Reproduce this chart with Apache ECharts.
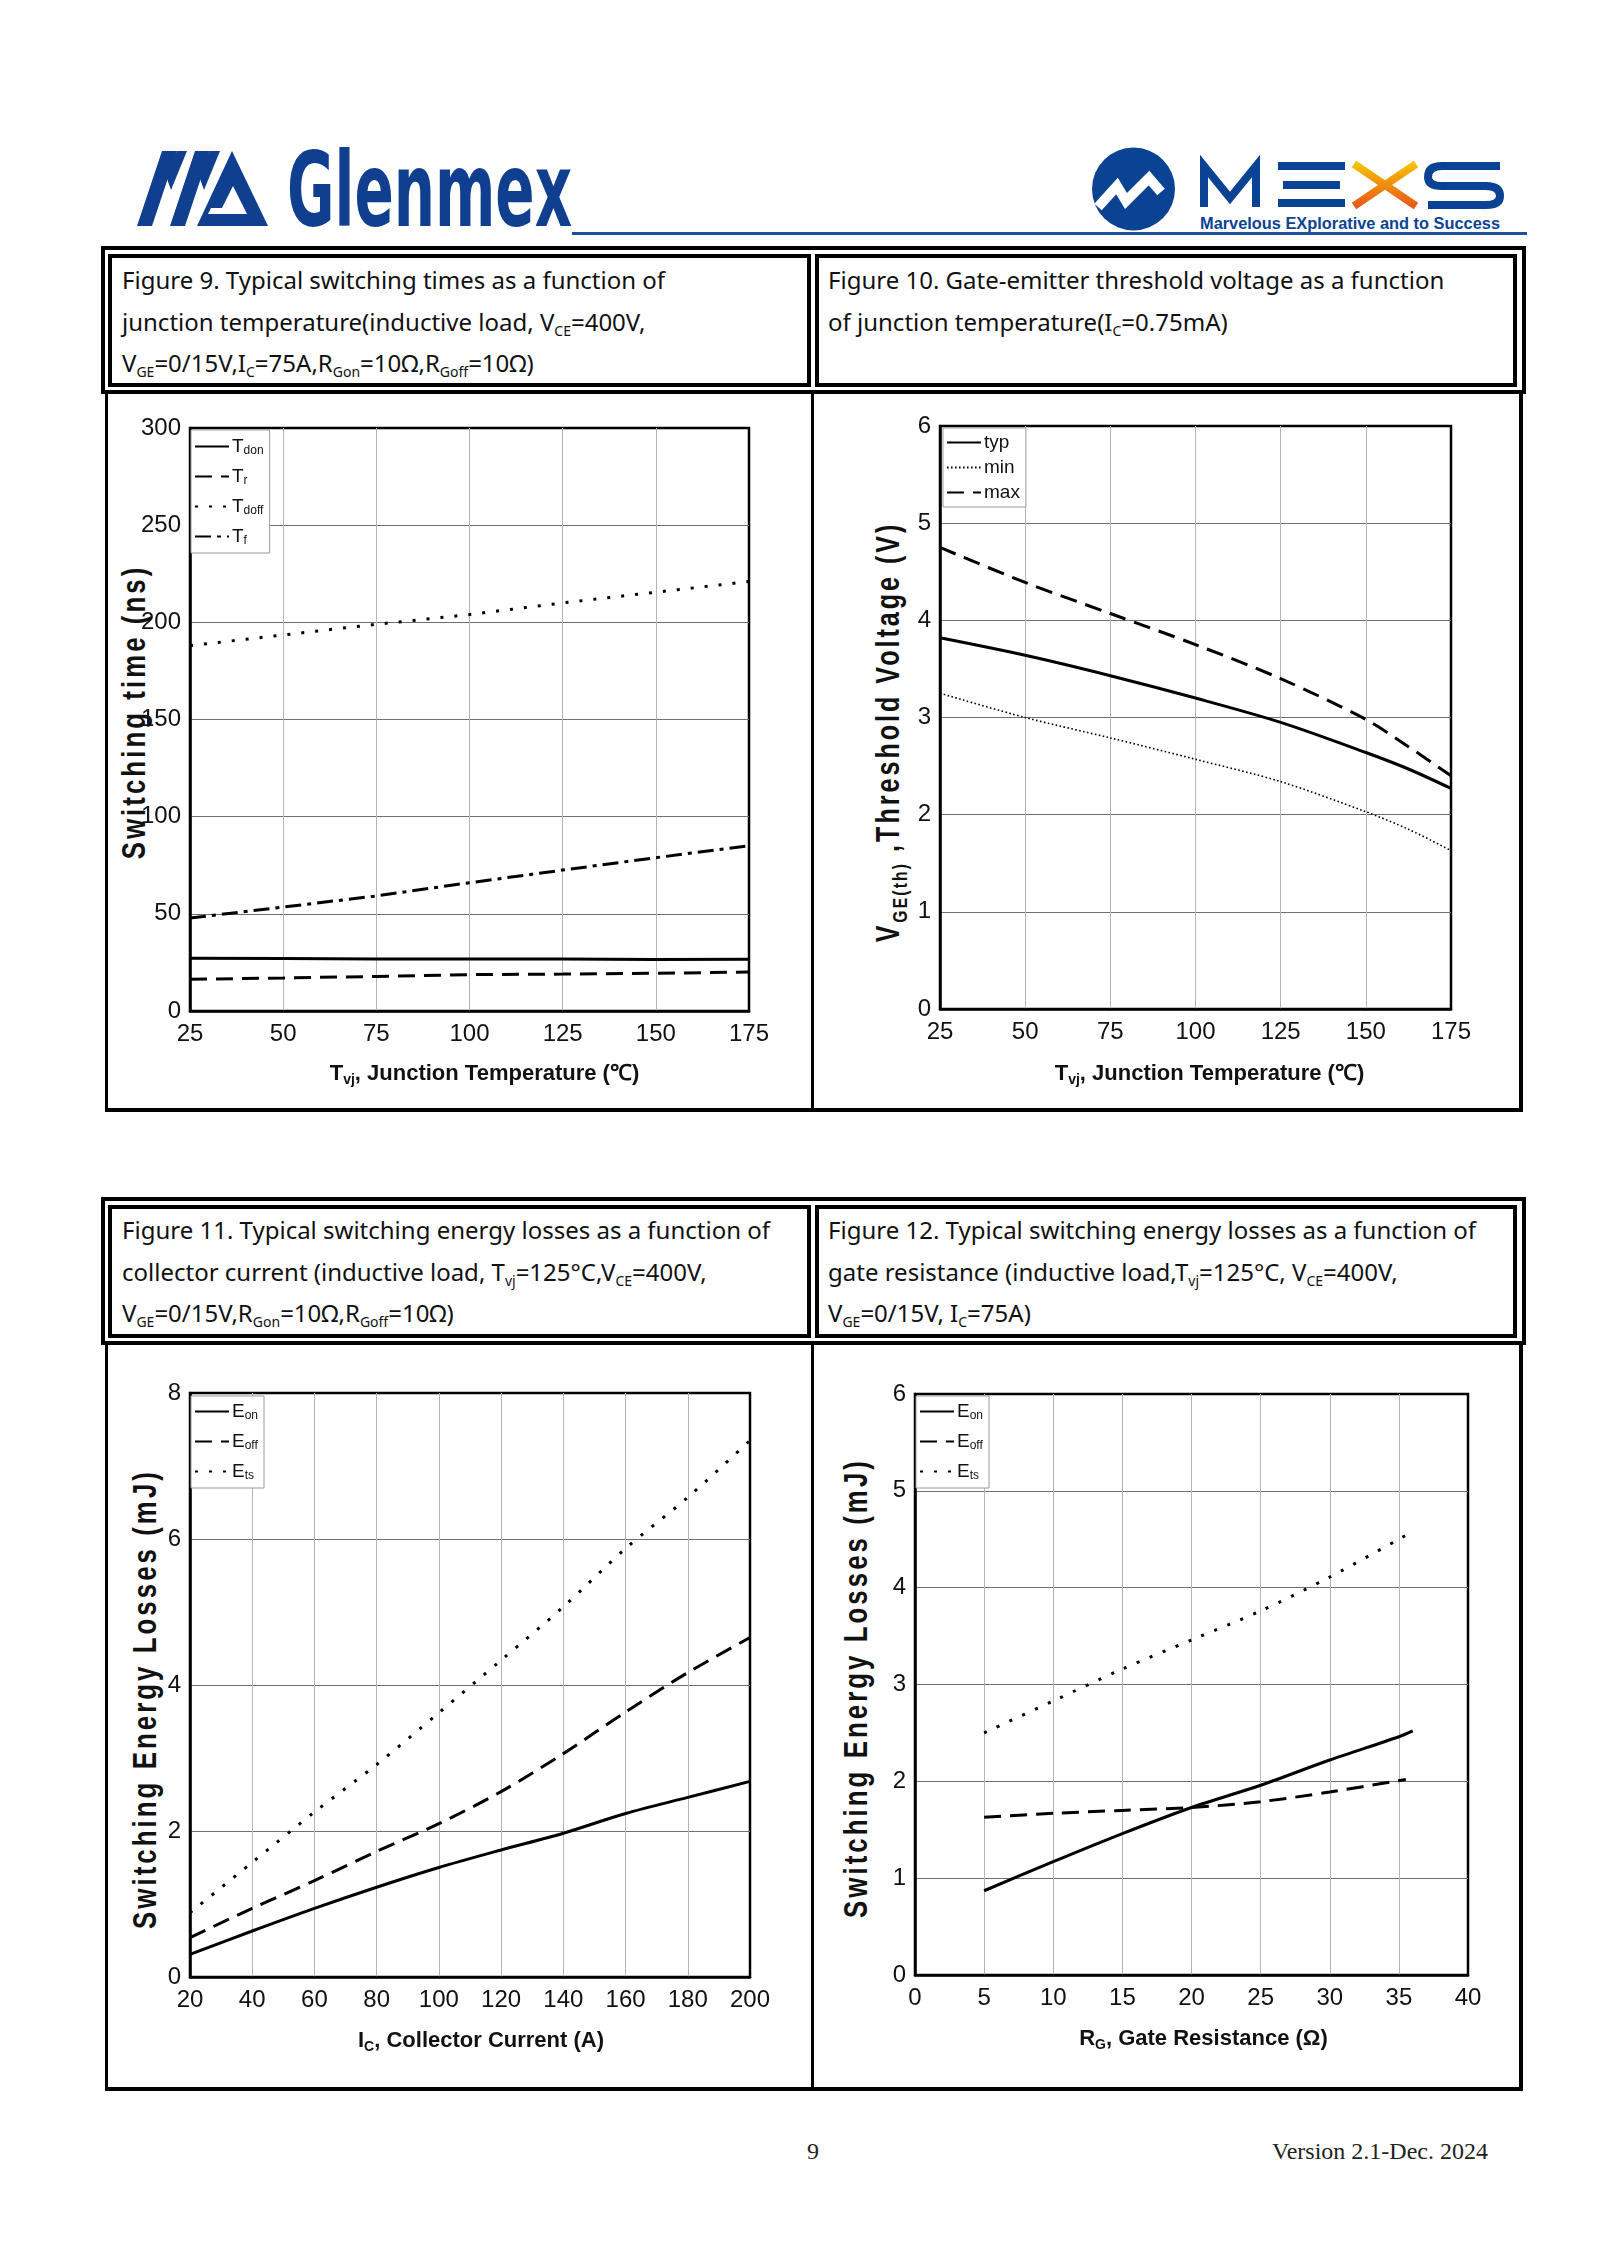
<!DOCTYPE html>
<html><head><meta charset="utf-8">
<script src="https://cdn.jsdelivr.net/npm/echarts@6/dist/echarts.min.js"></script>
<style>
html,body{margin:0;padding:0;background:#fff;}
#page{position:relative;width:1600px;height:2262px;overflow:hidden;background:#fff;}
.ln{position:absolute;background:#000;}
.cap{position:absolute;font-family:'Noto Sans',sans-serif;font-size:24px;line-height:41.5px;color:#111;white-space:nowrap;}
.cap sub{font-size:14px;vertical-align:-5px;line-height:0;}
.yt{position:absolute;font-family:'Liberation Sans',Arial,sans-serif;font-weight:bold;white-space:nowrap;line-height:1;color:#111;font-size:34px;letter-spacing:4px;}
.yt sub{font-size:21px;vertical-align:-8px;line-height:0;letter-spacing:3px;}
#chart{position:absolute;left:0;top:0;width:1600px;height:2262px;}
.foot{position:absolute;font-family:'Liberation Serif','Times New Roman',serif;font-size:24px;color:#222;line-height:1;}
</style></head>
<body><div id="page">
<svg id="logos" width="1600" height="260" style="position:absolute;left:0;top:0">
  <defs>
    <linearGradient id="xg" x1="0" y1="0" x2="0" y2="1">
      <stop offset="0" stop-color="#f6c000"/><stop offset="1" stop-color="#e85a1a"/>
    </linearGradient>
  </defs>
  <g fill="#0f3f8e">
    <polygon points="137,226 152,226 177,151 162,151"/>
    <polygon points="177,151 187,151 171,190 166,176"/>
    <polygon points="170,226 185,226 210,151 195,151"/>
    <polygon points="210,151 220,151 204,190 199,176"/>
    <polygon points="197,226 232,151 268,226"/>
  </g>
  <polygon points="219,214 233,186 247,214" fill="#fff"/>
  <polygon points="208,214 233,214 233,208 211,208" fill="#fff"/>
  <text x="287" y="226" font-family="'DejaVu Sans Condensed','Liberation Sans',sans-serif" font-weight="bold" font-size="104" textLength="285" lengthAdjust="spacingAndGlyphs" fill="#0f3f8e">Glenmex</text>
  <rect x="572" y="232" width="955" height="3" fill="#1e4f9a"/>
  <circle cx="1133.5" cy="189" r="41.5" fill="#0b4394"/>
  <polyline points="1098,207 1117,186 1126,201 1149,178 1161,192" fill="none" stroke="#fff" stroke-width="10" stroke-linejoin="miter"/>
  <g fill="none" stroke="#0b4394" stroke-width="8">
    <path d="M1204,207 V166 L1230,198 L1256,166 V207"/>
    <path d="M1500,166 H1442 Q1428,166 1428,177 Q1428,186 1442,186 H1486 Q1500,186 1500,196 Q1500,205 1486,205 H1428"/>
  </g>
  <g fill="#0b4394">
    <rect x="1278" y="162" width="67" height="8"/>
    <rect x="1283" y="181" width="57" height="8"/>
    <rect x="1278" y="199" width="67" height="8"/>
  </g>
  <g stroke="url(#xg)" stroke-width="8">
    <line x1="1354" y1="164" x2="1416" y2="206"/>
    <line x1="1416" y1="164" x2="1354" y2="206"/>
  </g>
  <text x="1200" y="229" font-family="'Liberation Sans',sans-serif" font-weight="bold" font-size="17" textLength="300" lengthAdjust="spacingAndGlyphs" fill="#0b4394">Marvelous EXplorative and to Success</text>
</svg>

<div class="cap" style="left:122px;top:259px">Figure 9. Typical switching times as a function of<br>junction temperature(inductive load, V<sub>CE</sub>=400V,<br>V<sub>GE</sub>=0/15V,I<sub>C</sub>=75A,R<sub>Gon</sub>=10Ω,R<sub>Goff</sub>=10Ω)</div>
<div class="cap" style="left:828px;top:259px">Figure 10. Gate-emitter threshold voltage as a function<br>of junction temperature(I<sub>C</sub>=0.75mA)</div>
<div class="cap" style="left:122px;top:1209px">Figure 11. Typical switching energy losses as a function of<br>collector current (inductive load, T<sub>vj</sub>=125°C,V<sub>CE</sub>=400V,<br>V<sub>GE</sub>=0/15V,R<sub>Gon</sub>=10Ω,R<sub>Goff</sub>=10Ω)</div>
<div class="cap" style="left:828px;top:1209px">Figure 12. Typical switching energy losses as a function of<br>gate resistance (inductive load,T<sub>vj</sub>=125°C, V<sub>CE</sub>=400V,<br>V<sub>GE</sub>=0/15V, I<sub>C</sub>=75A)</div>

<div class="yt" style="left:133px;top:712px;transform:translate(-50%,-50%) rotate(-90deg) scaleX(0.76)">Switching time (ns)</div>
<div class="yt" style="left:887px;top:732px;transform:translate(-50%,-50%) rotate(-90deg) scaleX(0.74)">V<sub>GE(th)</sub> ,Threshold Voltage (V)</div>
<div class="yt" style="left:144px;top:1699px;transform:translate(-50%,-50%) rotate(-90deg) scaleX(0.76)">Switching Energy Losses (mJ)</div>
<div class="yt" style="left:855px;top:1688px;transform:translate(-50%,-50%) rotate(-90deg) scaleX(0.76)">Switching Energy Losses (mJ)</div>

<div class="foot" style="left:807px;top:2139px">9</div>
<div class="foot" style="right:112px;top:2139px">Version 2.1-Dec. 2024</div>

<div id="chart"></div>
</div>
<script>
// ---------- DATA ----------
const tempX = [25, 50, 75, 100, 125, 150, 175];
const fig9_Tdon  = [27.2, 27.0, 26.8, 26.8, 26.7, 26.5, 26.6];
const fig9_Tr    = [16.3, 17.0, 17.8, 18.7, 19.0, 19.4, 20.1];
const fig9_Tdoff = [188, 193.5, 199, 204, 210, 215.5, 221];
const fig9_Tf    = [47.8, 53.5, 59.2, 66, 72.5, 78.9, 85];

const vthX   = [25, 50, 75, 100, 125, 150, 162.5, 175];
const vthTyp = [3.82, 3.64, 3.43, 3.20, 2.95, 2.64, 2.47, 2.27];
const vthMin = [3.25, 3.00, 2.79, 2.57, 2.34, 2.03, 1.85, 1.63];
const vthMax = [4.75, 4.39, 4.07, 3.75, 3.40, 2.98, 2.70, 2.40];

const icX   = [20, 40, 60, 80, 100, 120, 140, 160, 180, 200];
const icEon  = [0.31, 0.63, 0.94, 1.23, 1.50, 1.74, 1.97, 2.24, 2.46, 2.68];
const icEoff = [0.54, 0.94, 1.32, 1.72, 2.10, 2.54, 3.06, 3.63, 4.17, 4.65];
const icEts  = [0.88, 1.57, 2.26, 2.91, 3.62, 4.34, 5.07, 5.87, 6.57, 7.35];

const rgXon  = [5, 10, 15, 20, 25, 30, 35, 36];
const rgEon  = [0.87, 1.17, 1.46, 1.73, 1.96, 2.22, 2.46, 2.52];
const rgX    = [5, 10, 15, 20, 25, 30, 35.5];
const rgEoff = [1.63, 1.67, 1.70, 1.73, 1.79, 1.89, 2.02];
const rgEts  = [2.50, 2.83, 3.16, 3.46, 3.76, 4.11, 4.54];

// ---------- FRAME LINES ----------
const page = document.getElementById('page');
function rect(x, y, w, h) {
  const d = document.createElement('div');
  d.className = 'ln';
  d.style.left = x + 'px'; d.style.top = y + 'px';
  d.style.width = w + 'px'; d.style.height = h + 'px';
  page.insertBefore(d, page.firstChild);
}
function frame(dy, bottom) {
  rect(101, 246 + dy, 1425, 4);
  rect(101, 246 + dy, 4, 148);
  rect(1522, 246 + dy, 4, 148);
  rect(108, 254 + dy, 703, 4); rect(108, 383 + dy, 703, 4);
  rect(108, 254 + dy, 4, 133); rect(807, 254 + dy, 4, 133);
  rect(815, 254 + dy, 702, 4); rect(815, 383 + dy, 702, 4);
  rect(815, 254 + dy, 4, 133); rect(1513, 254 + dy, 4, 133);
  rect(101, 390 + dy, 1425, 4);
  rect(105, 390 + dy, 3, bottom - 390 - dy);
  rect(811, 390 + dy, 3, bottom - 390 - dy);
  rect(1519, 390 + dy, 4, bottom - 390 - dy);
  rect(105, bottom - 4, 1418, 4);
}
frame(0, 1112);
frame(951, 2091);

// ---------- CHART ----------
const FONT = "'Liberation Sans',Arial,sans-serif";
const pts = (xs, ys) => xs.map((x, i) => [x, ys[i]]);

const SOLID = { color: '#000', width: 3, type: 'solid' };
const DASH = { color: '#000', width: 3, type: [17, 9] };
const DOT = { color: '#000', width: 3, type: [3, 11] };
const DASHDOT = { color: '#000', width: 3, type: [16, 6, 4, 6] };
const FINEDOT = { color: '#000', width: 1.6, type: [1.6, 2.4] };

function line(name, idx, data, ls, smooth) {
  return { name, type: 'line', xAxisIndex: idx, yAxisIndex: idx, data, symbol: 'none',
    showSymbol: false, smooth: smooth ? 0.3 : false, lineStyle: ls, itemStyle: { color: '#000' },
    z: 3, silent: true };
}

const grids = [
  { left: 190, top: 428, width: 559, height: 583 },
  { left: 940, top: 426, width: 511, height: 583 },
  { left: 190, top: 1393, width: 560, height: 584 },
  { left: 915, top: 1394, width: 553, height: 581 }
].map(g => Object.assign(g, { show: true, borderColor: '#000', borderWidth: 2.5, backgroundColor: 'transparent' }));

const subRich = {
  b: { fontSize: 22, fontWeight: 'bold', fontFamily: FONT, color: '#111' },
  s: { fontSize: 14, fontWeight: 'bold', fontFamily: FONT, color: '#111', padding: [12, 0, 0, 0] }
};

function xAxis(idx, min, max, interval, name, shift, gap) {
  return {
    type: 'value', gridIndex: idx, min, max, interval,
    axisLine: { show: true, lineStyle: { color: '#000', width: 2.5 } },
    axisTick: { show: false },
    axisLabel: { fontSize: 24, margin: 11, color: '#111', fontFamily: FONT },
    splitLine: { show: true, showMinLine: false, showMaxLine: false, lineStyle: { color: '#b3b3b3', width: 1 } },
    name, nameLocation: 'middle', nameGap: gap,
    nameTextStyle: { rich: subRich, padding: [0, 0, 0, shift] }
  };
}
function yAxis(idx, min, max, interval) {
  return {
    type: 'value', gridIndex: idx, min, max, interval,
    axisLine: { show: true, lineStyle: { color: '#000', width: 2.5 } },
    axisTick: { show: false },
    axisLabel: { fontSize: 24, margin: 9, color: '#111', fontFamily: FONT },
    splitLine: { show: true, showMinLine: false, showMaxLine: false, lineStyle: { color: '#707070', width: 1 } }
  };
}

const legRich = {
  m: { fontSize: 19, fontFamily: FONT, color: '#111' },
  s: { fontSize: 12, fontFamily: FONT, color: '#111', padding: [9, 0, 0, 0] }
};
const legLabels = {
  Tdon: '{m|T}{s|don}', Tr: '{m|T}{s|r}', Tdoff: '{m|T}{s|doff}', Tf: '{m|T}{s|f}',
  Eon: '{m|E}{s|on}', Eoff: '{m|E}{s|off}', Ets: '{m|E}{s|ts}',
  typ: '{m|typ}', min: '{m|min}', max: '{m|max}'
};
function legend(names, left, top, gap, pad) {
  return {
    show: true, orient: 'vertical', left, top, data: names,
    itemWidth: 34, itemHeight: 12, itemGap: gap, padding: pad,
    borderColor: '#999', borderWidth: 1, backgroundColor: '#fff', borderRadius: 0,
    selectedMode: false,
    itemStyle: { color: 'rgba(0,0,0,0)', borderWidth: 0, opacity: 0 },
    textStyle: { fontFamily: FONT, fontSize: 19, color: '#111', rich: legRich, padding: [0, 0, 0, -2] },
    formatter: n => legLabels[n]
  };
}

const option = {
  animation: false,
  backgroundColor: 'transparent',
  textStyle: { fontFamily: FONT },
  grid: grids,
  xAxis: [
    xAxis(0, 25, 175, 25, '{b|T}{s|vj}{b|, Junction Temperature (℃)}', 30, 50),
    xAxis(1, 25, 175, 25, '{b|T}{s|vj}{b|, Junction Temperature (℃)}', 28, 52),
    xAxis(2, 20, 200, 20, '{b|I}{s|C}{b|, Collector Current (A)}', 22, 51),
    xAxis(3, 0, 40, 5, '{b|R}{s|G}{b|, Gate Resistance (Ω)}', 24, 51)
  ],
  yAxis: [
    yAxis(0, 0, 300, 50), yAxis(1, 0, 6, 1), yAxis(2, 0, 8, 2), yAxis(3, 0, 6, 1)
  ],
  legend: [
    legend(['Tdon', 'Tr', 'Tdoff', 'Tf'], 191, 430, 10, [7, 6, 6, 3]),
    legend(['typ', 'min', 'max'], 943, 428, 6, [5, 6, 5, 3]),
    legend(['Eon', 'Eoff', 'Ets'], 191, 1396, 10, [6, 6, 6, 3]),
    legend(['Eon', 'Eoff', 'Ets'], 916, 1396, 10, [6, 6, 6, 3])
  ],
  series: [
    line('Tdon', 0, pts(tempX, fig9_Tdon), SOLID, false),
    line('Tr', 0, pts(tempX, fig9_Tr), DASH, false),
    line('Tdoff', 0, pts(tempX, fig9_Tdoff), DOT, false),
    line('Tf', 0, pts(tempX, fig9_Tf), DASHDOT, false),
    line('typ', 1, pts(vthX, vthTyp), SOLID, true),
    line('min', 1, pts(vthX, vthMin), FINEDOT, true),
    line('max', 1, pts(vthX, vthMax), DASH, true),
    line('Eon', 2, pts(icX, icEon), SOLID, true),
    line('Eoff', 2, pts(icX, icEoff), DASH, true),
    line('Ets', 2, pts(icX, icEts), DOT, true),
    line('Eon', 3, pts(rgXon, rgEon), SOLID, true),
    line('Eoff', 3, pts(rgX, rgEoff), DASH, true),
    line('Ets', 3, pts(rgX, rgEts), DOT, true)
  ]
};
const chart = echarts.init(document.getElementById('chart'), null, { renderer: 'canvas' });
chart.setOption(option);
</script>
</body></html>
